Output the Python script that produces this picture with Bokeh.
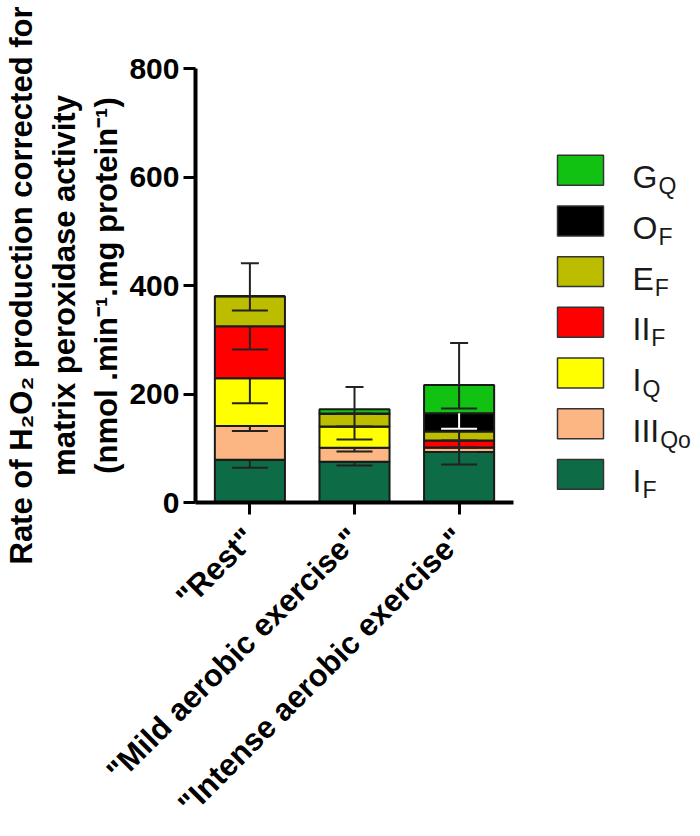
from math import pi
from bokeh.plotting import figure
from bokeh.models import ColumnDataSource, Range1d, FixedTicker
from bokeh.layouts import row
from bokeh.core.properties import value
from bokeh.embed import file_html
from bokeh.resources import INLINE

# ---------------- data ----------------
categories = ['"Rest"', '"Mild aerobic exercise"', '"Intense aerobic exercise"']
series = ["I_F", "III_Qo", "I_Q", "II_F", "E_F", "O_F", "G_Q"]   # stack order, bottom -> top
I_F = [79, 75, 93]
III_Qo = [62, 26, 8.5]
I_Q = [88, 39, 0]
II_F = [96, 0, 12.8]
E_F = [55, 23, 16.5]
O_F = [0, 1, 33.8]
G_Q = [0, 8, 51.9]
# downward error of each segment (from segment top)
I_F_err = [15, 7, 23]
III_Qo_err = [9, 7, 8.5]
I_Q_err = [46, 24, 0]
II_F_err = [43, 0, 12.8]
E_F_err = [26, 23, 16.5]
O_F_err = [0, 0, 28.6]
G_Q_err = [0, 8, 43]
total_err_up = [61, 41, 77.5]

y_ticks = [0, 200, 400, 600, 800]

legend_main = ["G", "O", "E", "II", "I", "III", "I"]
legend_sub = ["Q", "F", "F", "F", "Q", "Qo", "F"]
legend_series = ["G_Q", "O_F", "E_F", "II_F", "I_Q", "III_Qo", "I_F"]

colors = {"I_F": "#0d6b46", "III_Qo": "#fbb683", "I_Q": "#ffff00", "II_F": "#ff0000",
          "E_F": "#bdbd00", "O_F": "#000000", "G_Q": "#12c212"}
err_colors = {"O_F": "#ffffff"}

values = {"I_F": I_F, "III_Qo": III_Qo, "I_Q": I_Q, "II_F": II_F, "E_F": E_F, "O_F": O_F, "G_Q": G_Q}
errs = {"I_F": I_F_err, "III_Qo": III_Qo_err, "I_Q": I_Q_err, "II_F": II_F_err,
        "E_F": E_F_err, "O_F": O_F_err, "G_Q": G_Q_err}

FONT = "Liberation Sans"

# ---------------- layout constants (canvas px) ----------------
W_MAIN, H = 515, 836
FRAME_L, FRAME_R = 195, 513
FRAME_T, FRAME_B = 68, 503
XMIN, XMAX = -0.52, 2.52
PPU = (FRAME_R - FRAME_L) / (XMAX - XMIN)
BAR_W = 0.67
CAP_LO = 18 / PPU
CAP_UP = 9 / PPU

p = figure(width=W_MAIN, height=H, x_range=Range1d(XMIN, XMAX), y_range=Range1d(0, 800),
           output_backend="svg", toolbar_location=None, title=None,
           min_border_left=FRAME_L, min_border_right=W_MAIN - FRAME_R,
           min_border_top=FRAME_T, min_border_bottom=H - FRAME_B)
p.outline_line_color = None
p.xgrid.visible = False
p.ygrid.visible = False
p.background_fill_color = "white"

xs = list(range(len(categories)))
src = ColumnDataSource(dict(x=xs, **values))
p.vbar_stack(series, x="x", width=BAR_W, source=src,
             fill_color=[colors[s] for s in series], line_color="#1a1a1a", line_width=2)

# error bars
ex0, ey0, ey1, ec = [], [], [], []
cx0, cx1, cy, cc = [], [], [], []
for i in xs:
    cum = 0
    for s in series:
        cum += values[s][i]
        e = errs[s][i]
        if e > 0:
            col = err_colors.get(s, "#222222")
            ex0.append(i); ey0.append(cum); ey1.append(cum - e); ec.append(col)
            cx0.append(i - CAP_LO); cx1.append(i + CAP_LO); cy.append(cum - e); cc.append(col)
    eu = total_err_up[i]
    ex0.append(i); ey0.append(cum); ey1.append(cum + eu); ec.append("#222222")
    cx0.append(i - CAP_UP); cx1.append(i + CAP_UP); cy.append(cum + eu); cc.append("#222222")

p.segment(x0="x", y0="y0", x1="x", y1="y1", line_color="c", line_width=2,
          source=ColumnDataSource(dict(x=ex0, y0=ey0, y1=ey1, c=ec)))
p.segment(x0="x0", y0="y", x1="x1", y1="y", line_color="c", line_width=2,
          source=ColumnDataSource(dict(x0=cx0, x1=cx1, y=cy, c=cc)))

# axes
for ax in (p.xaxis[0], p.yaxis[0]):
    ax.axis_line_width = 4
    ax.axis_line_color = "black"
    ax.major_tick_line_width = 3
    ax.major_tick_line_color = "black"
    ax.major_tick_out = 12
    ax.major_tick_in = 0
    ax.minor_tick_line_color = None
    ax.major_label_text_font = FONT
    ax.major_label_text_font_style = "bold"
    ax.major_label_text_color = "black"

p.yaxis.ticker = FixedTicker(ticks=y_ticks)
p.yaxis.major_label_text_font_size = "30px"
p.yaxis.major_label_standoff = 4
p.yaxis.axis_label = ("Rate of H\u2082O\u2082 production corrected for\n"
                      "matrix peroxidase activity\n"
                      "(nmol .min\u207b\u00b9.mg protein\u207b\u00b9)")
p.yaxis.axis_label_text_font = FONT
p.yaxis.axis_label_text_font_style = "bold"
p.yaxis.axis_label_text_font_size = "31px"
p.yaxis.axis_label_text_line_height = 1.22
p.yaxis.axis_label_text_color = "black"
p.yaxis.axis_label_standoff = 2

p.xaxis.ticker = FixedTicker(ticks=xs)
p.xaxis.major_label_overrides = {i: c for i, c in enumerate(categories)}
p.xaxis.major_label_orientation = pi / 4
p.xaxis.major_label_text_font_size = "31px"
p.xaxis.major_label_standoff = 19

# ---------------- legend figure (frame aligned with main frame) ----------------
W_LEG = 700 - W_MAIN
lg = figure(width=W_LEG, height=H, x_range=Range1d(W_MAIN, 700), y_range=Range1d(FRAME_B, FRAME_T),
            output_backend="svg", toolbar_location=None, title=None,
            min_border_left=0, min_border_right=0,
            min_border_top=FRAME_T, min_border_bottom=H - FRAME_B,
            x_axis_location=None, y_axis_location=None)
lg.outline_line_color = None
lg.xgrid.visible = False
lg.ygrid.visible = False

n = len(legend_series)
tops = [155 + k * 50.8 for k in range(n)]
lg.quad(left=[557] * n, right=[603] * n, top=tops, bottom=[t + 30 for t in tops],
        fill_color=[colors[s] for s in legend_series], line_color="#333333", line_width=1.5)

MAIN_FS = 32
adv = {"G": 0.778, "O": 0.778, "E": 0.667, "I": 0.278}
tx = 632
sub_x = [tx + sum(adv[ch] for ch in m) * MAIN_FS + 1 for m in legend_main]
lg.text(x=[tx] * n, y=[t + 22 for t in tops], text=legend_main, text_baseline="alphabetic",
        text_font=value(FONT), text_font_size=f"{MAIN_FS}px", text_color="#1a1a1a")
lg.text(x=sub_x, y=[t + 31 for t in tops], text=legend_sub, text_baseline="alphabetic",
        text_font=value(FONT), text_font_size="23px", text_color="#1a1a1a")

layout = row(p, lg)
open("out.html", "w").write(file_html(layout, INLINE))
